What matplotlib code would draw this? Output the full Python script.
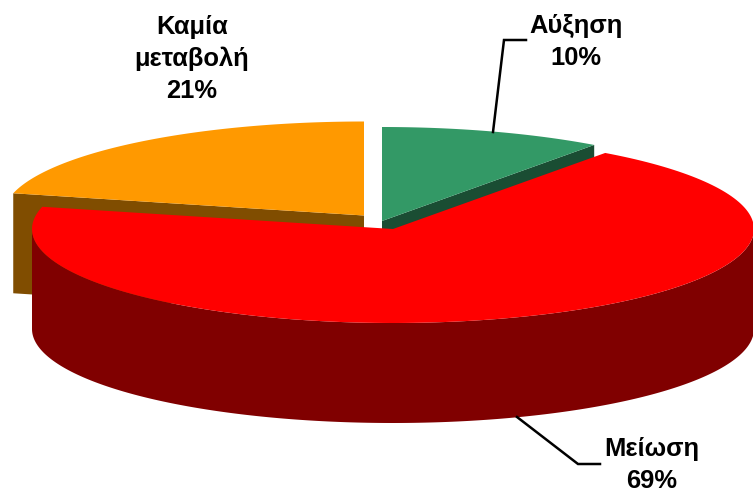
"""Exploded 3-D pie: Αύξηση / Μείωση / Καμία μεταβολή."""
import matplotlib
matplotlib.use("Agg")
import matplotlib.pyplot as plt
from matplotlib.patches import Polygon
import numpy as np

labels = ["Αύξηση", "Μείωση", "Καμία\nμεταβολή"]
values = [10, 68.8, 21.2]
top_colors = ["#339966", "#FF0000", "#FF9900"]
side_colors = ["#1A4D33", "#800000", "#804D00"]
# slice apex on the page, pixels (exploded slices sit apart)
centers = [(382, 221), (393, 229), (364, 215.5)]
label_pos = [(576, 42), (652, 465), (192, 59)]
leaders = [
    [(493, 132), (504, 40), (526, 40)],
    [(517, 417), (578, 464), (600, 464)],
]

RX, RY = 361, 94
DEPTH = 100
W, H = 753, 493


def rim(center, a0, a1, drop=0):
    # angles in degrees, clockwise from 12 o'clock
    t = np.radians(np.linspace(a0, a1, 200))
    return np.column_stack([center[0] + RX * np.sin(t), center[1] - RY * np.cos(t) + drop])


plt.rcParams["font.family"] = ["Liberation Sans", "DejaVu Sans"]
fig = plt.figure(figsize=(W / 100, H / 100), dpi=100)
ax = fig.add_axes([0, 0, 1, 1])
ax.set_xlim(0, W)
ax.set_ylim(H, 0)
ax.axis("off")

edges = np.cumsum([0] + values) * 3.6
spans = list(zip(edges[:-1], edges[1:]))

# back slices first, red goes over both
for i in [2, 0, 1]:
    c, (a0, a1) = centers[i], spans[i]
    if i == 1:
        front = rim(c, max(a0, 90), min(a1, 270))
        wall = np.vstack([front, front[::-1] + [0, DEPTH]])
        ax.add_patch(Polygon(wall, closed=True, fc=side_colors[i], ec="none", zorder=2))
    else:
        # radial cut face that shows beside the red slice
        edge_angle = a0 if i == 2 else a1
        outer = rim(c, edge_angle, edge_angle + 1e-6)[0]
        face = [c, outer, outer + [0, DEPTH], np.array(c) + [0, DEPTH]]
        ax.add_patch(Polygon(face, closed=True, fc=side_colors[i], ec="none", zorder=1))
    top = np.vstack([[c], rim(c, a0, a1)])
    ax.add_patch(Polygon(top, closed=True, fc=top_colors[i], ec="none", zorder=3 if i == 1 else 1.5))

for pts in leaders:
    xs, ys = zip(*pts)
    ax.plot(xs, ys, color="black", lw=1.8, solid_joinstyle="miter", zorder=4)

for name, val, (x, y) in zip(labels, values, label_pos):
    ax.text(x, y, f"{name}\n{val:.0f}%", ha="center", va="center", fontsize=18.4,
            fontweight="bold", color="black", linespacing=1.43, zorder=5)

fig.savefig("out.png", dpi=100, facecolor="white")
